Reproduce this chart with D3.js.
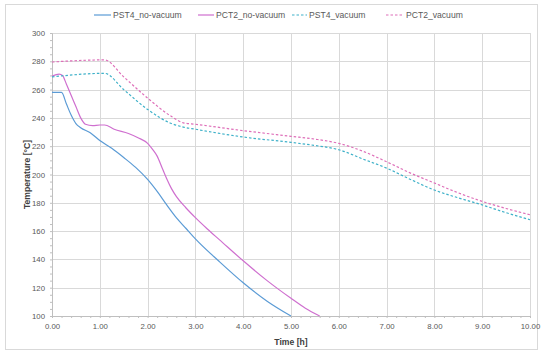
<!DOCTYPE html>
<html>
<head>
<meta charset="utf-8">
<script src="https://cdn.jsdelivr.net/npm/d3@7"></script>
<style>
  body { margin: 0; background: #fff; }
  text { font-family: "Liberation Sans", Arial, sans-serif; }
</style>
</head>
<body>
<div id="chart"></div>
<script>
// Data (time in hours, temperature in °C)
var pst4NoVacT = [0, 0.2, 0.3, 0.4, 0.5, 0.6, 0.8, 1.0, 1.25, 1.5, 1.75, 2.0, 2.2, 2.4, 2.6, 2.8, 3.0, 3.5, 4.0, 4.5, 5.0];
var pst4NoVac  = [258, 258, 250, 242, 236, 233, 229.5, 224, 218.5, 212, 205, 196.5, 188, 178.5, 169.5, 162, 154.5, 138.5, 123.5, 110.5, 100];

var pct2NoVacT = [0, 0.15, 0.22, 0.3, 0.4, 0.5, 0.6, 0.7, 0.85, 1.0, 1.1, 1.3, 1.6, 1.8, 2.0, 2.1, 2.2, 2.3, 2.4, 2.5, 2.6, 2.8, 3.0, 3.25, 3.5, 4.0, 4.5, 5.0, 5.3, 5.6];
var pct2NoVac  = [269.5, 271, 270, 264, 256, 248, 240, 235.5, 234.5, 235, 235, 232, 229, 226, 222, 218, 213, 205, 197, 190, 184.5, 176.5, 169.5, 161.5, 154, 139, 125, 112.5, 105.5, 100];

var pst4VacT = [0, 1.1, 1.5, 2.0, 2.5, 2.75, 3.0, 4.0, 5.0, 5.5, 6.0, 6.5, 7.0, 7.5, 8.0, 8.5, 9.0, 9.5, 10.0];
var pst4Vac  = [269, 271.5, 260, 246, 236, 233.5, 232, 226.5, 222.7, 220.5, 217.5, 211, 204.5, 196.5, 189, 183.5, 178.5, 173, 168];

var pct2VacT = [0, 1.1, 1.5, 2.0, 2.5, 2.75, 3.0, 4.0, 5.0, 5.5, 6.0, 6.5, 7.0, 7.5, 8.0, 8.5, 9.0, 9.5, 10.0];
var pct2Vac  = [279.5, 281, 269, 254, 241, 236.5, 235.5, 231, 227, 225, 222, 216.5, 209, 201, 194, 187, 181, 176, 171.5];

var seriesNames = ["PST4_no-vacuum", "PCT2_no-vacuum", "PST4_vacuum", "PCT2_vacuum"];
var xTicks = [0, 1, 2, 3, 4, 5, 6, 7, 8, 9, 10];
var yTicks = [100, 120, 140, 160, 180, 200, 220, 240, 260, 280, 300];

var svgWidth = 550;
var svgHeight = 354;

var margin = { top: 33, right: 20, bottom: 38, left: 52 };
var width = 530 - margin.left;
var height = 316 - margin.top;

var svg = d3.select("#chart")
  .append("svg")
  .attr("width", svgWidth)
  .attr("height", svgHeight);

// outer chart border
svg.append("rect")
  .attr("x", 5.5)
  .attr("y", 4.5)
  .attr("width", 532)
  .attr("height", 345)
  .attr("fill", "none")
  .attr("stroke", "#d9d9d9");

var chartGroup = svg.append("g")
  .attr("transform", `translate(${margin.left}, ${margin.top})`);

var xScale = d3.scaleLinear().domain([0, 10]).range([0, width]);
var yScale = d3.scaleLinear().domain([100, 300]).range([height, 0]);

// gridlines
chartGroup.append("g")
  .selectAll("line")
  .data(xTicks)
  .enter()
  .append("line")
  .attr("x1", d => Math.round(xScale(d)) + 0.5)
  .attr("x2", d => Math.round(xScale(d)) + 0.5)
  .attr("y1", 0)
  .attr("y2", height)
  .attr("stroke", "#d9d9d9");

chartGroup.append("g")
  .selectAll("line")
  .data(yTicks)
  .enter()
  .append("line")
  .attr("x1", 0)
  .attr("x2", width)
  .attr("y1", d => Math.round(yScale(d)) + 0.5)
  .attr("y2", d => Math.round(yScale(d)) + 0.5)
  .attr("stroke", "#d9d9d9");

// minor ticks on the axes
var bottomMinor = d3.axisBottom(xScale).ticks(50).tickSize(2).tickFormat("");
var leftMinor = d3.axisLeft(yScale).ticks(40).tickSize(2).tickFormat("");

var xMinor = chartGroup.append("g")
  .attr("transform", `translate(0, ${height})`)
  .call(bottomMinor);
var yMinor = chartGroup.append("g")
  .call(leftMinor);

[xMinor, yMinor].forEach(function(g) {
  g.select(".domain").attr("stroke", "#bfbfbf");
  g.selectAll(".tick line").attr("stroke", "#bfbfbf");
});

// axes with labels
var bottomAxis = d3.axisBottom(xScale)
  .tickValues(xTicks)
  .tickSize(0)
  .tickPadding(7)
  .tickFormat(d3.format(".2f"));
var leftAxis = d3.axisLeft(yScale)
  .tickValues(yTicks)
  .tickSize(0)
  .tickPadding(7);

var xAxis = chartGroup.append("g")
  .attr("transform", `translate(0, ${height})`)
  .call(bottomAxis);
var yAxis = chartGroup.append("g")
  .call(leftAxis);

[xAxis, yAxis].forEach(function(g) {
  g.select(".domain").remove();
  g.selectAll("text")
    .attr("fill", "#595959")
    .style("font-size", "7.8px")
    .style("font-family", "Liberation Sans, Arial, sans-serif");
});

// axis titles
chartGroup.append("text")
  .attr("x", width / 2)
  .attr("y", height + 29)
  .attr("text-anchor", "middle")
  .attr("font-size", "8.6px")
  .attr("font-weight", "bold")
  .attr("fill", "#404040")
  .text("Time [h]");

chartGroup.append("text")
  .attr("transform", "rotate(-90)")
  .attr("x", 0 - height / 2)
  .attr("y", 30 - margin.left)
  .attr("text-anchor", "middle")
  .attr("font-size", "8.6px")
  .attr("font-weight", "bold")
  .attr("fill", "#404040")
  .text("Temperature [°C]");

// lines
var series = [
  { name: seriesNames[0], t: pst4NoVacT, v: pst4NoVac, color: "#5b9bd5", dash: null },
  { name: seriesNames[1], t: pct2NoVacT, v: pct2NoVac, color: "#cf6fcf", dash: null },
  { name: seriesNames[2], t: pst4VacT, v: pst4Vac, color: "#3fb1c9", dash: "2.5,2" },
  { name: seriesNames[3], t: pct2VacT, v: pct2Vac, color: "#de6fb9", dash: "2.5,2" }
];

var line = d3.line()
  .x(d => xScale(d[0]))
  .y(d => yScale(d[1]))
  .curve(d3.curveMonotoneX);

chartGroup.selectAll(".series")
  .data(series)
  .enter()
  .append("path")
  .attr("class", "series")
  .attr("d", d => line(d.t.map((t, i) => [t, d.v[i]])))
  .attr("fill", "none")
  .attr("stroke", d => d.color)
  .attr("stroke-width", 1.2)
  .attr("stroke-dasharray", d => d.dash);

// legend
var legendPos = [
  { x1: 94, x2: 111, tx: 113 },
  { x1: 198, x2: 214, tx: 216 },
  { x1: 292, x2: 307, tx: 309 },
  { x1: 386, x2: 402, tx: 406 }
];

var legend = svg.append("g");
series.forEach(function(s, i) {
  var p = legendPos[i];
  legend.append("line")
    .attr("x1", p.x1)
    .attr("x2", p.x2)
    .attr("y1", 15)
    .attr("y2", 15)
    .attr("stroke", s.color)
    .attr("stroke-width", 1.2)
    .attr("stroke-dasharray", s.dash);
  legend.append("text")
    .attr("x", p.tx)
    .attr("y", 18)
    .attr("font-size", "8.6px")
    .attr("fill", "#595959")
    .text(s.name);
});
</script>
</body>
</html>
